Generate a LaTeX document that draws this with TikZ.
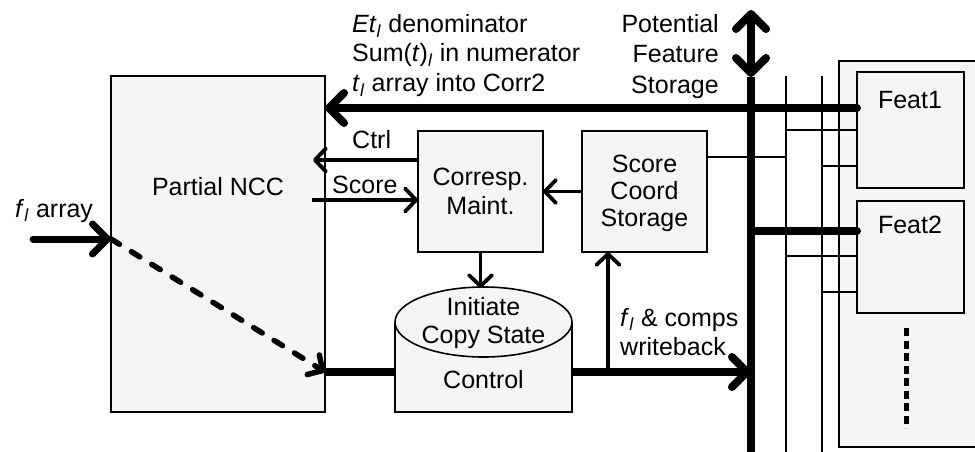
\documentclass[tikz,border=0pt]{standalone}
\usepackage{fontspec}
\setmainfont{Liberation Sans}
\usetikzlibrary{arrows.meta}
\tikzset{
  BB/.tip={Straight Barb[length=15pt,width=30pt,round]},
  SB/.tip={Straight Barb[length=11pt,width=23pt,round]},
  blk/.style={draw, line width=1.6pt, fill=black!4, inner sep=0pt, outer sep=0pt},
  lbl/.style={inner sep=0pt, anchor=base},
  lblw/.style={inner sep=0pt, anchor=base west},
  lble/.style={inner sep=0pt, anchor=base east},
  heavy/.style={line width=8pt, line cap=round},
  mid/.style={line width=3.8pt},
  thinline/.style={line width=2.2pt},
}
\newcommand{\subl}{\textsubscript{\textit{l}}}
\begin{document}
\begin{tikzpicture}[x=1pt, y=-1pt, font=\fontsize{25}{30}\selectfont]
\fill[white] (0,0) rectangle (975,452);
\useasboundingbox (0,0) rectangle (975,452);

% feature storage container and feature blocks
\draw[line width=1.6pt, fill=black!4] (985,61) -- (839,61) -- (839,447) -- (985,447);
\node[blk, minimum width=107pt, minimum height=116pt] (feat1) at (910.5,130) {};
\node[blk, minimum width=107pt, minimum height=112pt] (feat2) at (910.5,257) {};
\node[lbl] (feat1t) at (910,108) {Feat1};
\node[lbl] (feat2t) at (910,233) {Feat2};
\coordinate (moreTop) at (906,328);
\coordinate (moreBot) at (906,428);
\draw[line width=5pt, dash pattern=on 8pt off 4.5pt] (moreTop) -- (moreBot);

% processing blocks
\node[blk, minimum width=214pt, minimum height=336pt] (ncc) at (218,244) {};
\node[lbl] (ncct) at (218,195) {Partial NCC};
\node[blk, minimum width=125pt, minimum height=121pt] (corr) at (480.5,191.5) {};
\node[lbl] (corrt1) at (480.5,185) {Corresp.};
\node[lbl] (corrt2) at (480.5,214) {Maint.};
\node[blk, minimum width=125pt, minimum height=121pt] (scs) at (644.5,191.5) {};
\node[lbl] (scst1) at (644.5,172) {Score};
\node[lbl] (scst2) at (644.5,199) {Coord};
\node[lbl] (scst3) at (644.5,226) {Storage};

% control cylinder
\node[inner sep=0pt, outer sep=0pt, minimum width=177pt, minimum height=124pt] (ctl) at (483.5,350) {};
\coordinate (cylc) at (483.5,322);
\fill[black!4] (ctl.west |- cylc) rectangle (ctl.south east);
\draw[line width=1.6pt] (ctl.west |- cylc) -- (ctl.south west) -- (ctl.south east) -- (ctl.east |- cylc);
\draw[line width=1.6pt, fill=black!4] (cylc) ellipse [x radius=88.5pt, y radius=35pt];
\node[lbl] (ctlt1) at (483.5,315) {Initiate};
\node[lbl] (ctlt2) at (483.5,343) {Copy State};
\node[lbl] (ctlt3) at (483.5,388) {Control};

% rows and bus points
\coordinate (rowT) at (0,108);
\coordinate (rowCtrl) at (0,160);
\coordinate (rowScore) at (0,200);
\coordinate (rowS) at (0,157);
\coordinate (rowF2) at (0,231);
\coordinate (rowOut) at (0,372);
\coordinate (busTop) at (751,10);
\coordinate (busArr) at (751,77);
\coordinate (busBot) at (751,470);
\coordinate (b1Top) at (786,76);
\coordinate (b1Bot) at (786,470);
\coordinate (b2Top) at (822,76);
\coordinate (b2Bot) at (822,470);
\coordinate (wb) at (608,372);
\coordinate (fin) at (33,239);

% thin feature buses
\draw[thinline] (b1Top) -- (b1Bot);
\draw[thinline] (b2Top) -- (b2Bot);
\draw[thinline] (b1Top |- feat1.west) -- (feat1.west);
\draw[thinline] (b2Top |- 0,166) -- (feat1.west |- 0,166);
\draw[thinline] (scs.east |- rowS) -- (b1Top |- rowS);
\draw[thinline] (b1Top |- 0,256) -- (feat2.west |- 0,256);
\draw[thinline] (b2Top |- 0,292) -- (feat2.west |- 0,292);

% main bus
\draw[line width=8pt, BB-BB] (busTop) -- (busArr);
\draw[line width=8pt] (busArr) -- (busBot);
\draw[heavy, -BB] (feat1.west |- rowT) -- (ncc.east |- rowT);
\draw[heavy] (busArr |- rowF2) -- (feat2.west |- rowF2);

% block connections
\draw[mid, -SB, shorten >=-12pt] (corr.west |- rowCtrl) -- (ncc.east |- rowCtrl);
\draw[mid, -SB, shorten <=-13pt] (ncc.east |- rowScore) -- (corr.west |- rowScore);
\draw[mid, -SB] (scs.west) -- (corr.east);
\draw[mid, -SB] (corr.south) -- (corr.south |- ctl.north);
\draw[line width=8pt] (ncc.east |- rowOut) -- (ctl.west |- rowOut);
\draw[line width=8pt, -BB] (ctl.east |- rowOut) -- (busArr |- rowOut);
\draw[mid, -SB] (wb) -- (wb |- scs.south);

% input array and its pass-through
\draw[line width=7pt, line cap=round, -BB] (fin) -- (ncc.west |- fin);
\draw[line width=5.5pt, line cap=round, dash pattern=on 10pt off 14pt, -SB] (ncc.west |- fin) -- (ncc.east |- rowOut);

% labels
\node[lblw] (n1) at (352,33) {\textit{Et}\subl{} denominator};
\node[lblw] (n2) at (352,62) {Sum(\textit{t})\subl{} in numerator};
\node[lblw] (n3) at (352,92) {\textit{t}\subl{} array into Corr2};
\node[lble] (p1) at (719,33) {Potential};
\node[lble] (p2) at (719,63) {Feature};
\node[lble] (p3) at (719,93) {Storage};
\node[lblw] (ctrlt) at (352,148) {Ctrl};
\node[lblw] (scoret) at (332,193) {Score};
\node[lblw] (fint) at (15,217) {\textit{f}\subl{} array};
\node[lblw] (wbt1) at (620,326) {\textit{f}\subl{} \& comps};
\node[lblw] (wbt2) at (620,355) {writeback};
\end{tikzpicture}
\end{document}
